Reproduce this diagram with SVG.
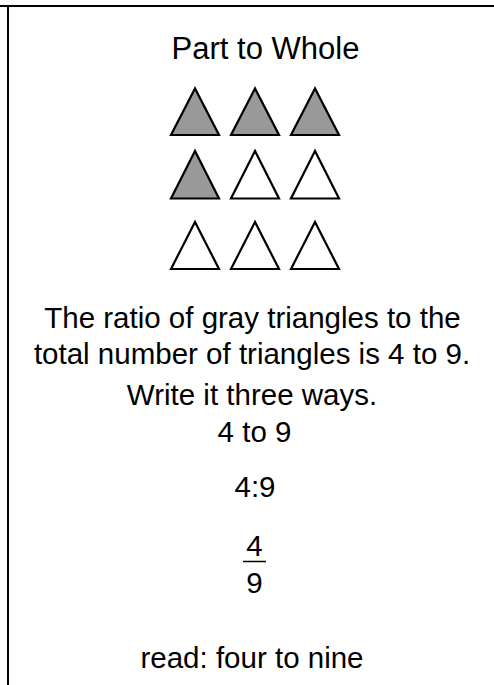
<svg xmlns="http://www.w3.org/2000/svg" width="494" height="685" viewBox="0 0 494 685">
  <style>
    text { font-family: "Liberation Sans", Arial, sans-serif; font-size: 29.5px; fill: #000; text-anchor: middle; }
    .tri { stroke: #000; stroke-width: 2.2; stroke-linejoin: miter; }
    .g { fill: #999999; }
    .w { fill: #ffffff; }
    .rule { stroke: #000; stroke-width: 2; fill: none; }
  </style>
  <rect x="0" y="0" width="494" height="685" fill="#ffffff"/>
  <g id="frame">
    <line class="rule" x1="0" y1="6" x2="494" y2="6"/>
    <line class="rule" x1="8" y1="5" x2="8" y2="685"/>
  </g>
  <g id="title">
    <text x="265.5" y="59" style="font-size:31px">Part to Whole</text>
  </g>
  <g id="triangles">
    <polygon class="tri g" points="195,88.5 171,135 219,135"/>
    <polygon class="tri g" points="255,88.5 231,135 279,135"/>
    <polygon class="tri g" points="315,88.5 291,135 339,135"/>
    <polygon class="tri g" points="195,151 171,198.5 219,198.5"/>
    <polygon class="tri w" points="255,151 231,198.5 279,198.5"/>
    <polygon class="tri w" points="315,151 291,198.5 339,198.5"/>
    <polygon class="tri w" points="195,222 171,269 219,269"/>
    <polygon class="tri w" points="255,222 231,269 279,269"/>
    <polygon class="tri w" points="315,222 291,269 339,269"/>
  </g>
  <g id="statement">
    <text x="252.5" y="328">The ratio of gray triangles to the</text>
    <text x="252" y="364">total number of triangles is 4 to 9.</text>
  </g>
  <g id="instruction">
    <text x="252" y="405">Write it three ways.</text>
  </g>
  <g id="way1">
    <text x="254.5" y="442">4 to 9</text>
  </g>
  <g id="way2">
    <text x="255" y="497">4:9</text>
  </g>
  <g id="way3">
    <text x="254.5" y="556">4</text>
    <line x1="243" y1="561.5" x2="266" y2="561.5" stroke="#000" stroke-width="1.5"/>
    <text x="254.5" y="593">9</text>
  </g>
  <g id="reading">
    <text x="252" y="668">read: four to nine</text>
  </g>
</svg>
